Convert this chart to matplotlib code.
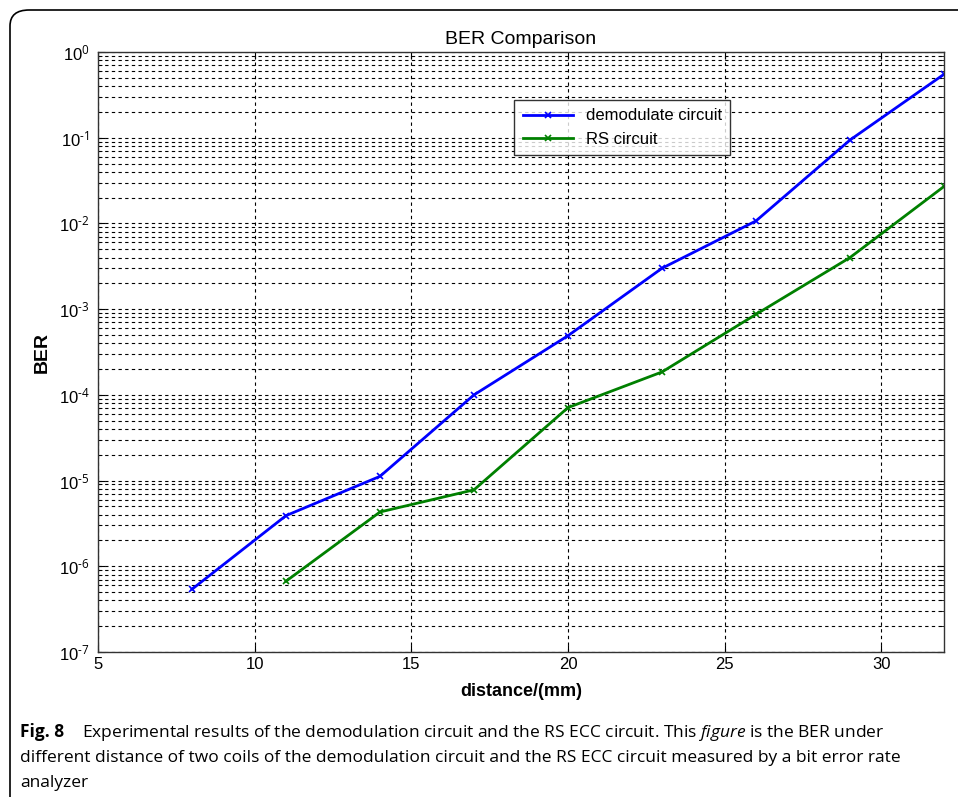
import numpy as np
import matplotlib.pyplot as plt
from matplotlib.patches import FancyBboxPatch
from matplotlib.ticker import LogLocator, NullFormatter, MultipleLocator, FuncFormatter

plt.rcParams['font.family'] = ['Liberation Sans', 'DejaVu Sans']
plt.rcParams['mathtext.fontset'] = 'custom'
plt.rcParams['mathtext.rm'] = 'Open Sans'
plt.rcParams['mathtext.bf'] = 'Open Sans:bold'
plt.rcParams['mathtext.it'] = 'Open Sans:italic'

distance_demod = [8, 11, 14, 17, 20, 23, 26, 29, 32]
ber_demod = [5.4e-7, 3.9e-6, 1.12e-5, 1.0e-4, 4.9e-4, 3.0e-3, 1.07e-2, 9.4e-2, 0.55]

distance_rs = [11, 14, 17, 20, 23, 26, 29, 32]
ber_rs = [6.7e-7, 4.3e-6, 7.8e-6, 7.1e-5, 1.85e-4, 8.7e-4, 4.0e-3, 2.7e-2]

fig = plt.figure(figsize=(9.58, 7.97), dpi=100)

# panel frame (right and bottom edges run off the image)
frame = FancyBboxPatch((10 / 958, -0.1), 1.2, 1 - 10 / 797 + 0.1,
                       boxstyle="round,pad=0,rounding_size=0.02",
                       transform=fig.transFigure, fill=False,
                       edgecolor='black', linewidth=1.2)
fig.patches.append(frame)

ax = fig.add_axes([98 / 958, 1 - 652 / 797, 846 / 958, 600 / 797])

ax.plot(distance_demod, ber_demod, color='#0000ff', lw=2, marker='x',
        ms=5, mew=1.2, label='demodulate circuit')
ax.plot(distance_rs, ber_rs, color='#008000', lw=2, marker='x',
        ms=5, mew=1.2, label='RS circuit')

ax.set_yscale('log')
ax.set_xlim(5, 32)
ax.set_ylim(1e-7, 1)
ax.xaxis.set_major_locator(MultipleLocator(5))
ax.yaxis.set_major_locator(LogLocator(base=10, numticks=10))
ax.yaxis.set_minor_locator(LogLocator(base=10, subs=np.arange(2, 10), numticks=100))
ax.yaxis.set_minor_formatter(NullFormatter())
ax.yaxis.set_major_formatter(
    FuncFormatter(lambda v, p: r'$\mathdefault{10^{\text{%d}}}$' % round(np.log10(v))))

gs = dict(color='black', linestyle=(0, (3, 3)), linewidth=0.8)
ax.grid(True, which='major', axis='both', **gs)
ax.grid(True, which='minor', axis='y', **gs)

ax.tick_params(which='both', direction='in', top=True, right=True, labelsize=12)
ax.tick_params(which='major', length=5)
ax.tick_params(axis='y', which='major', pad=6)
ax.tick_params(which='minor', length=3)
for s in ax.spines.values():
    s.set_linewidth(1.0)
    s.set_color('#333333')

ax.set_title('BER Comparison', fontsize=14, pad=6)
ax.set_xlabel('distance/(mm)', fontsize=13, fontweight='bold', labelpad=8)
ax.set_ylabel('BER', fontsize=14, fontweight='bold', labelpad=6)

leg = ax.legend(loc='upper left', bbox_to_anchor=(0.492, 0.92), fontsize=12,
                frameon=True, fancybox=False, edgecolor='black',
                borderaxespad=0, handlelength=3.0, borderpad=0.5,
                labelspacing=0.5)
leg.get_frame().set_linewidth(1.0)

# caption
cap_font = ['Open Sans', 'DejaVu Sans']
fig.text(20 / 958, 1 - 737 / 797, 'Fig. 8', fontsize=12.5, fontweight='bold',
         family=cap_font)
fig.text(82 / 958, 1 - 737 / 797,
         r'Experimental results of the demodulation circuit and the RS ECC '
         r'circuit. This $\mathit{figure}$ is the BER under',
         fontsize=12.5, family=cap_font)
fig.text(20 / 958, 1 - 762 / 797,
         'different distance of two coils of the demodulation circuit and the RS ECC '
         'circuit measured by a bit error rate', fontsize=12.5, family=cap_font)
fig.text(20 / 958, 1 - 787 / 797, 'analyzer', fontsize=12.5, family=cap_font)

fig.savefig('out.png', dpi=100)
